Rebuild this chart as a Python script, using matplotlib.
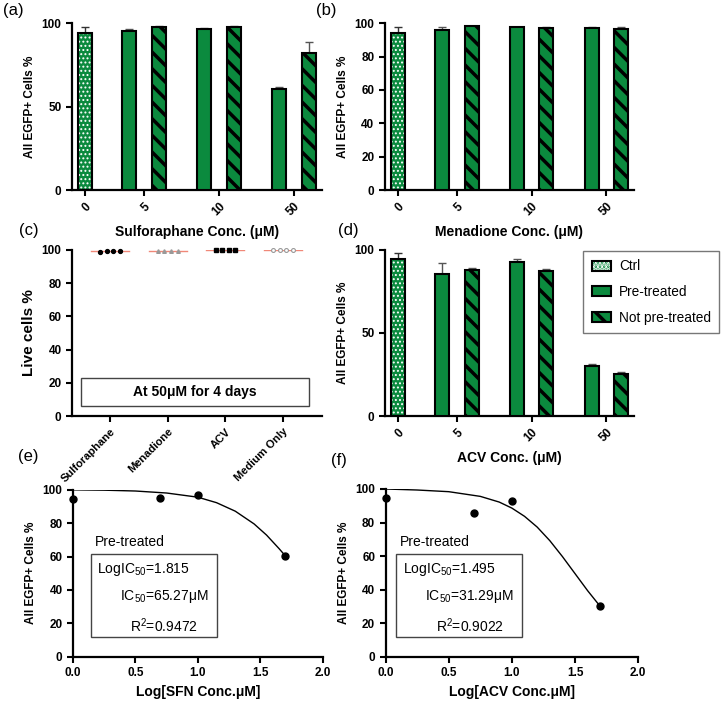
import numpy as np
import matplotlib.pyplot as plt
from matplotlib.patches import Patch, Rectangle
from matplotlib.legend_handler import HandlerTuple

plt.rcParams['font.family'] = ['Liberation Sans', 'DejaVu Sans']
plt.rcParams['mathtext.fontset'] = 'custom'
plt.rcParams['mathtext.rm'] = 'Liberation Sans'
plt.rcParams['mathtext.it'] = 'Liberation Sans:italic'
plt.rcParams['mathtext.bf'] = 'Liberation Sans:bold'
plt.rcParams['hatch.linewidth'] = 2.5
plt.rcParams['axes.linewidth'] = 1.6

green = '#0b8a3e'

conc = ['0', '5', '10', '50']

# (a) sulforaphane: ctrl, pre-treated, not pre-treated (mean, upper error)
sfn_ctrl, sfn_ctrl_err = 94.4, 3.2
sfn_pre = [95.4, 96.8, 60.4]
sfn_pre_err = [1.4, 0.4, 1.6]
sfn_not = [98.0, 98.0, 82.0]
sfn_not_err = [0.3, 0.3, 6.6]

# (b) menadione
men_ctrl, men_ctrl_err = 94.4, 3.2
men_pre = [96.0, 97.6, 97.4]
men_pre_err = [1.6, 0.2, 0.2]
men_not = [98.4, 97.0, 96.6]
men_not_err = [0.2, 0.6, 1.2]

# (d) ACV
acv_ctrl, acv_ctrl_err = 94.4, 3.6
acv_pre = [85.4, 92.6, 30.0]
acv_pre_err = [7.0, 1.8, 1.6]
acv_not = [88.0, 87.4, 25.4]
acv_not_err = [1.0, 1.0, 1.2]

# (c) viability at 50uM for 4 days
via_groups = ['Sulforaphane', 'Menadione', 'ACV', 'Medium Only']
via_vals = [[98.6, 99.3, 99.2, 99.1],
            [99.6, 99.6, 99.6, 99.6],
            [99.8, 99.8, 99.8, 99.8],
            [99.7, 99.7, 99.7, 99.7]]

# (e) / (f) dose response, log concentration
log_conc = [0.0, 0.699, 1.0, 1.699]
sfn_points = [94.4, 95.4, 96.8, 60.4]
acv_points = [94.6, 85.6, 93.0, 30.1]
sfn_fit_x = [0.0, 0.25, 0.5, 0.75, 1.0, 1.15, 1.3, 1.45, 1.55, 1.65, 1.7]
sfn_fit_y = [100, 99.8, 99.3, 98.1, 95.6, 92.3, 87.2, 79.6, 72.9, 64.8, 60.5]
acv_fit_x = [0.0, 0.25, 0.5, 0.75, 0.9, 1.0, 1.1, 1.2, 1.3, 1.4, 1.5, 1.6, 1.7]
acv_fit_y = [100, 99.4, 98.4, 95.6, 92.2, 88.6, 83.7, 77.3, 69.2, 59.7, 49.5, 39.3, 29.9]

fig = plt.figure(figsize=(7.22, 7.04), dpi=100)


def thin_hatch(p):
    if hasattr(p, 'set_hatch_linewidth'):
        p.set_hatch_linewidth(0.9)


def style(ax):
    for s in ['top', 'right']:
        ax.spines[s].set_visible(False)
    ax.tick_params(width=1.5, length=4, labelsize=8.5)
    for lab in ax.get_xticklabels() + ax.get_yticklabels():
        lab.set_fontweight('bold')


def bar_panel(ax, ctrl, ctrl_err, pre, pre_err, nt, nt_err, yticks, xlabel):
    centers = np.array([0.79, 1.79, 2.79])
    w = 0.187
    off = 0.197
    with plt.rc_context({'hatch.linewidth': 0.9}):
        dots = ax.bar(0, ctrl, w, color=green, edgecolor='white', hatch='....',
                      linewidth=0, zorder=2)
    for p in dots:
        thin_hatch(p)
    ax.bar(0, ctrl, w, color='none', edgecolor='black', linewidth=1.5, zorder=3)
    ax.bar(centers - off, pre, w, color=green, edgecolor='black', linewidth=1.5, zorder=3)
    ax.bar(centers + off, nt, w, color=green, edgecolor='black', hatch='\\\\',
           linewidth=1.5, zorder=3)
    ax.errorbar([0], [ctrl], yerr=[[0], [ctrl_err]], fmt='none', ecolor='#333333',
                elinewidth=1, capsize=3, zorder=1)
    ax.errorbar(centers - off, pre, yerr=[np.zeros(3), pre_err], fmt='none',
                ecolor='#555555', elinewidth=1, capsize=3, zorder=1)
    ax.errorbar(centers + off, nt, yerr=[np.zeros(3), nt_err], fmt='none',
                ecolor='#555555', elinewidth=1, capsize=3, zorder=1)
    ax.set_xlim(-0.173, 3.16)
    ax.set_ylim(0, 100)
    ax.set_yticks(yticks)
    ax.set_xticks([0] + list(centers))
    ax.set_xticklabels(conc, rotation=45, ha='right', rotation_mode='anchor')
    ax.set_ylabel('All EGFP+ Cells %', fontsize=8.5, fontweight='bold')
    ax.set_xlabel(xlabel, fontsize=10, fontweight='bold', labelpad=5)
    style(ax)


ax_a = fig.add_axes([0.0997, 0.730, 0.346, 0.237])
bar_panel(ax_a, sfn_ctrl, sfn_ctrl_err, sfn_pre, sfn_pre_err, sfn_not, sfn_not_err,
          [0, 50, 100], 'Sulforaphane Conc. (μM)')

ax_b = fig.add_axes([0.533, 0.730, 0.345, 0.237])
bar_panel(ax_b, men_ctrl, men_ctrl_err, men_pre, men_pre_err, men_not, men_not_err,
          [0, 20, 40, 60, 80, 100], 'Menadione Conc. (μM)')

ax_d = fig.add_axes([0.533, 0.409, 0.345, 0.236])
bar_panel(ax_d, acv_ctrl, acv_ctrl_err, acv_pre, acv_pre_err, acv_not, acv_not_err,
          [0, 50, 100], 'ACV Conc. (μM)')

# (c)
ax_c = fig.add_axes([0.0997, 0.409, 0.346, 0.236])
offs = np.array([-0.17, -0.057, 0.057, 0.17])
marks = [dict(marker='o', color='black', ms=2.8),
         dict(marker='^', color='#999999', ms=2.6),
         dict(marker='s', color='black', ms=2.8),
         dict(marker='o', mfc='white', mec='#999999', color='#999999', ms=2.8, mew=0.8)]
for i, vals in enumerate(via_vals):
    ax_c.plot([i - 0.33, i + 0.33], [np.mean(vals)] * 2, color='#f08878', lw=1, zorder=2)
    ax_c.plot(i + offs, vals, linestyle='none', zorder=3, clip_on=False, **marks[i])
ax_c.set_xlim(-0.66, 3.67)
ax_c.set_ylim(0, 100)
ax_c.set_yticks([0, 20, 40, 60, 80, 100])
ax_c.set_xticks(range(4))
ax_c.set_xticklabels(via_groups, rotation=45, ha='right', rotation_mode='anchor')
ax_c.set_ylabel('Live cells %', fontsize=11, fontweight='bold')
style(ax_c)
ax_c.tick_params(axis='x', labelsize=8)
ax_c.add_patch(Rectangle((0.036, 0.062), 0.912, 0.168, transform=ax_c.transAxes,
                         fill=False, edgecolor='#444444', lw=1))
ax_c.text(0.492, 0.146, 'At 50μM for 4 days', transform=ax_c.transAxes, ha='center',
          va='center', fontsize=10, fontweight='bold')


def curve_panel(ax, pts, fx, fy, xlabel, box, texts):
    ax.plot(fx, fy, color='black', lw=1)
    ax.plot(log_conc, pts, 'o', color='black', ms=5, clip_on=False, zorder=4)
    ax.set_xlim(0, 2)
    ax.set_ylim(0, 100)
    ax.set_xticks([0, 0.5, 1.0, 1.5, 2.0])
    ax.set_xticklabels(['0.0', '0.5', '1.0', '1.5', '2.0'])
    ax.set_yticks([0, 20, 40, 60, 80, 100])
    ax.set_ylabel('All EGFP+ Cells %', fontsize=8.5, fontweight='bold')
    ax.set_xlabel(xlabel, fontsize=10, fontweight='bold')
    style(ax)
    ax.add_patch(Rectangle((box[0], box[1]), box[2], box[3], fill=False,
                           edgecolor='#444444', lw=1))
    for x, y, s in texts:
        ax.text(x, y, s, fontsize=10, va='center')


ax_e = fig.add_axes([0.101, 0.0672, 0.346, 0.237])
curve_panel(ax_e, sfn_points, sfn_fit_x, sfn_fit_y, 'Log[SFN Conc.μM]',
            (0.144, 11.8, 1.008, 49.8),
            [(0.176, 68.8, 'Pre-treated'),
             (0.19, 52.4, 'LogIC$_{50}$=1.815'),
             (0.376, 35.8, 'IC$_{50}$=65.27μM'),
             (0.456, 18.4, 'R$^{2}$=0.9472')])

ax_f = fig.add_axes([0.534, 0.0672, 0.350, 0.2382])
curve_panel(ax_f, acv_points, acv_fit_x, acv_fit_y, 'Log[ACV Conc.μM]',
            (0.079, 11.6, 0.999, 49.5),
            [(0.111, 68.6, 'Pre-treated'),
             (0.142, 52.0, 'LogIC$_{50}$=1.495'),
             (0.316, 35.6, 'IC$_{50}$=31.29μM'),
             (0.40, 18.6, 'R$^{2}$=0.9022')])

# legend
with plt.rc_context({'hatch.linewidth': 0.9}):
    h_dots = Patch(facecolor=green, edgecolor='white', hatch='....', linewidth=0)
thin_hatch(h_dots)
h_ctrl = (h_dots, Patch(facecolor='none', edgecolor='black', linewidth=1.5))
h_pre = Patch(facecolor=green, edgecolor='black', linewidth=1.5)
h_not = Patch(facecolor=green, edgecolor='black', hatch='\\\\', linewidth=1.5)
leg = fig.legend([h_ctrl, h_pre, h_not], ['Ctrl', 'Pre-treated', 'Not pre-treated'],
                 handler_map={tuple: HandlerTuple(ndivide=1)},
                 loc='upper left', bbox_to_anchor=(0.808, 0.643), fontsize=9.8,
                 fancybox=False, edgecolor='#555555', labelspacing=0.85,
                 handlelength=1.4, handleheight=0.75, borderpad=0.6, handletextpad=0.6,
                 borderaxespad=0)
leg.get_frame().set_linewidth(1)

# panel letters
for x, y, s in [(0.004, 0.985, '(a)'), (0.438, 0.985, '(b)'), (0.027, 0.673, '(c)'),
                (0.468, 0.673, '(d)'), (0.025, 0.352, '(e)'), (0.458, 0.346, '(f)')]:
    fig.text(x, y, s, fontsize=12, va='center')

fig.savefig('out.png', dpi=100)
